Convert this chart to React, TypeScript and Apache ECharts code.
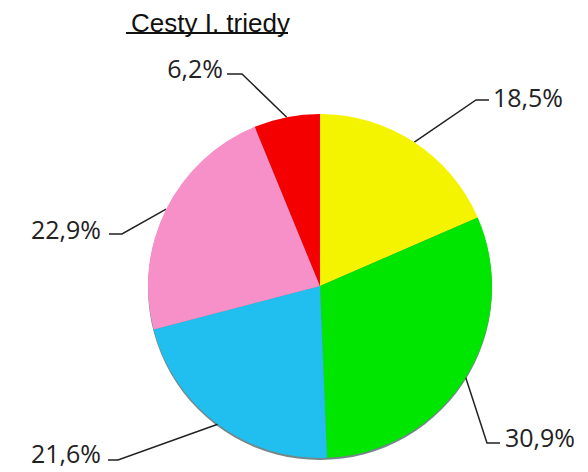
import React, { useEffect, useRef } from "react";
import * as echarts from "echarts";

const TITLE = "Cesty I. triedy";
const categories = ["A", "B", "C", "D", "E"];
const values = [18.5, 30.9, 21.6, 22.9, 6.2];
const valueLabels = ["18,5%", "30,9%", "21,6%", "22,9%", "6,2%"];
const colors = ["#f4f400", "#00e600", "#20bff0", "#f78fc8", "#f40000"];

// label placement (layout only): text anchor, bend point, line end
const LABEL_LAYOUT = [
  { x: 493, y: 97, align: "left", bx: 476, ly: 100, ex: 489 },
  { x: 505, y: 437, align: "left", bx: 487, ly: 443, ex: 500 },
  { x: 101, y: 453, align: "right", bx: 118, ly: 460, ex: 108 },
  { x: 101, y: 229, align: "right", bx: 122, ly: 234, ex: 109 },
  { x: 223, y: 68, align: "right", bx: 242, ly: 74, ex: 227 },
];

export default function App() {
  const ref = useRef<HTMLDivElement>(null);
  useEffect(() => {
    if (!ref.current) return;
    const chart = echarts.init(ref.current, null, { renderer: "svg" });
    const cx = 320;
    const cy = 286;
    const r = 172;
    const total = values.reduce((a, b) => a + b, 0);
    chart.setOption({
      animation: false,
      backgroundColor: "#ffffff",
      title: {
        text: TITLE,
        left: 126,
        top: 5,
        textStyle: {
          fontFamily: "Liberation Sans",
          fontSize: 26,
          fontWeight: "normal",
          color: "#111",
        },
      },
      graphic: [
        {
          type: "line",
          z: 10,
          shape: { x1: 126, y1: 33, x2: 288, y2: 33 },
          style: { stroke: "#111", lineWidth: 2 },
        },
        {
          type: "circle",
          z: -10,
          shape: { cx: cx, cy: cy + 2, r: r },
          style: { fill: "rgba(0,40,40,0.55)" },
        },
      ],
      series: [
        {
          type: "pie",
          center: [cx, cy],
          radius: r,
          startAngle: 90,
          clockwise: true,
          avoidLabelOverlap: false,
          z: 5,
          data: categories.map((c, i) => ({
            name: c,
            value: values[i],
            itemStyle: { color: colors[i] },
          })),
          itemStyle: { borderWidth: 0 },
          label: {
            show: true,
            position: "outside",
            formatter: (p: any) => valueLabels[p.dataIndex],
            fontFamily: "Open Sans",
            fontSize: 25,
            lineHeight: 24,
            color: "#222",
          },
          labelLine: {
            show: true,
            length: 20,
            length2: 10,
            lineStyle: { color: "#222", width: 1.5 },
          },
          labelLayout: (params: any) => {
            const L = LABEL_LAYOUT[params.dataIndex];
            let start = params.labelLinePoints && params.labelLinePoints[0];
            if (!start) {
              let acc = 0;
              for (let i = 0; i < params.dataIndex; i++) acc += values[i];
              const mid = ((acc + values[params.dataIndex] / 2) / total) * Math.PI * 2;
              start = [cx + r * Math.sin(mid), cy - r * Math.cos(mid)];
            }
            return {
              x: L.x,
              y: L.y,
              align: L.align,
              verticalAlign: "middle",
              labelLinePoints: [start, [L.bx, L.ly], [L.ex, L.ly]],
            };
          },
        },
      ],
    });
    return () => chart.dispose();
  }, []);
  return (
    <div
      ref={ref}
      style={{ position: "fixed", left: 0, top: 0, width: 588, height: 472 }}
    />
  );
}
